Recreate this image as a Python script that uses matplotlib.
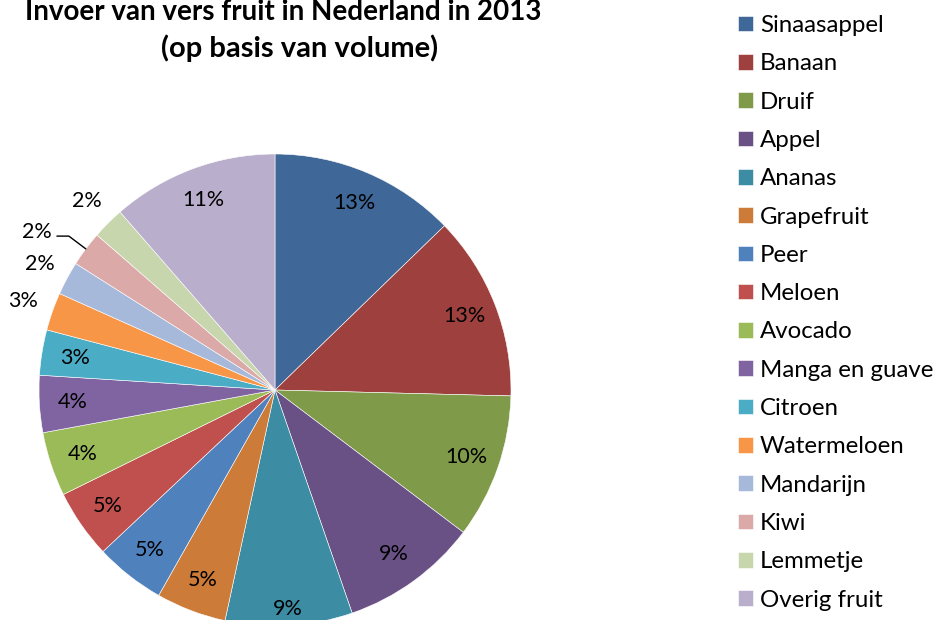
import numpy as np
import matplotlib
matplotlib.use("Agg")
import matplotlib.pyplot as plt

plt.rcParams['font.family'] = ['Lato', 'DejaVu Sans']

# Invoer van vers fruit, aandeel in procent
fruit = ['Sinaasappel', 'Banaan', 'Druif', 'Appel', 'Ananas', 'Grapefruit',
         'Peer', 'Meloen', 'Avocado', 'Manga en guave', 'Citroen',
         'Watermeloen', 'Mandarijn', 'Kiwi', 'Lemmetje', 'Overig fruit']
aandeel = [12.75, 12.65, 9.9, 9.4, 8.7, 4.8, 4.8, 4.7, 4.4, 3.9, 3.1,
           2.6, 2.3, 2.4, 2.2, 11.4]
kleuren = ['#3F6797', '#9E413E', '#7F9A48', '#695185', '#3C8DA3', '#CC7B38',
           '#4F81BD', '#C0504D', '#9BBB59', '#8064A2', '#4BACC6', '#F79646',
           '#A7B9DA', '#DBA9A8', '#C7D6AD', '#B9AECB']

W, H = 937, 620
fig = plt.figure(figsize=(W / 100, H / 100), dpi=100)

# pie centre and radius in pixels
cx, cy, r = 275, 390, 236
ax = fig.add_axes([(cx - r) / W, (H - cy - r) / H, 2 * r / W, 2 * r / H])

wedges, texts, autotexts = ax.pie(
    aandeel, colors=kleuren, startangle=90, counterclock=False,
    autopct='%.0f%%', pctdistance=0.86, radius=1,
    wedgeprops=dict(edgecolor='white', linewidth=0.4),
    textprops=dict(fontsize=15.5, color='black'))
ax.set_aspect('auto')
ax.set_xlim(-1, 1)
ax.set_ylim(-1, 1)
ax.axis('off')

# small slices get their label outside
buiten = ['Watermeloen', 'Mandarijn', 'Lemmetje']
for w, t, naam in zip(wedges, autotexts, fruit):
    mid = np.deg2rad((w.theta1 + w.theta2) / 2)
    if naam in buiten:
        t.set_position((1.13 * np.cos(mid), 1.13 * np.sin(mid)))
    elif naam == 'Ananas':
        t.set_position((0.93 * np.cos(mid), 0.93 * np.sin(mid)))
    elif naam == 'Kiwi':
        t.set_visible(False)
        lab = mid + np.deg2rad(1.5)
        ax.annotate(t.get_text(), xy=(np.cos(mid), np.sin(mid)),
                    xytext=(1.16 * np.cos(lab), 1.16 * np.sin(lab)),
                    ha='right', va='center', fontsize=15.5,
                    arrowprops=dict(arrowstyle='-', color='black', lw=1,
                                    relpos=(1, 0.3), shrinkA=2, shrinkB=0,
                                    connectionstyle='angle,angleA=0,angleB=-37,rad=0'))

fig.text(283 / W, 1 - 12 / H, 'Invoer van vers fruit in Nederland in 2013',
         ha='center', va='center', fontsize=20, fontweight='bold')
fig.text(300 / W, 1 - 48 / H, '(op basis van volume)',
         ha='center', va='center', fontsize=21, fontweight='bold')

fig.legend(wedges, fruit, loc='upper left', bbox_to_anchor=(726 / W, 1 - 3 / H),
           frameon=False, fontsize=17.3, handlelength=0.62, handleheight=0.62,
           handletextpad=0.3, labelspacing=0.72, borderpad=0)

fig.savefig('out.png', dpi=100)
